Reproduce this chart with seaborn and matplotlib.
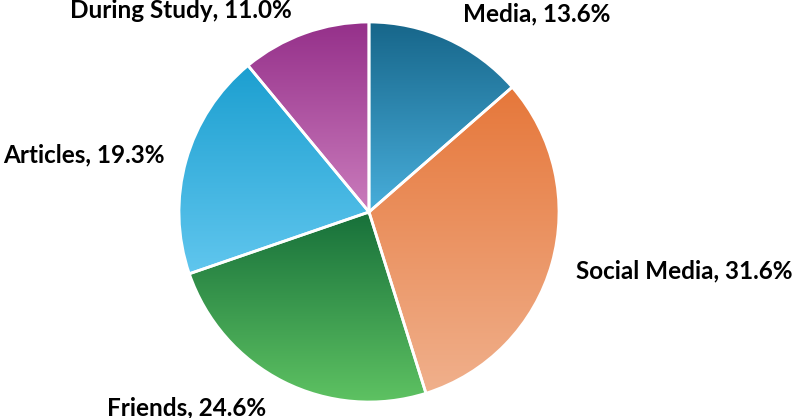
import numpy as np
import seaborn as sns
import matplotlib.pyplot as plt
from matplotlib.colors import LinearSegmentedColormap

# data (clockwise from 12 o'clock)
sources = ['Media', 'Social Media', 'Friends', 'Articles', 'During Study']
shares = [13.6, 31.6, 24.6, 19.3, 11.0]

# gradient colours per slice: (top, bottom)
top_colors = ['#17668a', '#e6773a', '#17703a', '#1c9fd0', '#95308a']
bottom_colors = ['#48aedb', '#f0b08c', '#5ec262', '#60c6ee', '#ca7cbc']

# label anchors in pie-radius units
label_pos = [(0.88, 1.04), (1.66, -0.31), (-0.96, -1.03), (-1.50, 0.30), (-0.99, 1.06)]

sns.set_theme(style='white')
plt.rcParams['font.family'] = ['Lato', 'DejaVu Sans']

fig = plt.figure(figsize=(7.94, 4.18), dpi=100)
ax = fig.add_axes([0, 0, 1, 1])

wedges, _ = ax.pie(shares, startangle=90, counterclock=False, radius=1,
                   wedgeprops=dict(facecolor='none', edgecolor='white', linewidth=2))

grad = np.linspace(0, 1, 256).reshape(-1, 1)
for w, top, bot in zip(wedges, top_colors, bottom_colors):
    bb = w.get_path().get_extents()
    cmap = LinearSegmentedColormap.from_list('g', [bot, top])
    im = ax.imshow(grad, cmap=cmap, extent=[bb.x0, bb.x1, bb.y0, bb.y1],
                   origin='lower', aspect='auto', zorder=0.5)
    im.set_clip_path(w)
    w.set_zorder(2)

for name, val, (x, y) in zip(sources, shares, label_pos):
    ax.text(x, y, f'{name}, {val:.1f}%', ha='center', va='center',
            fontsize=17.5, fontweight='bold', color='black')

# keep 190 px per unit radius, centre at (369, 212) px
ax.set_xlim(-369 / 190, (794 - 369) / 190)
ax.set_ylim(-(418 - 212) / 190, 212 / 190)
ax.set_aspect('auto')
ax.axis('off')

fig.savefig('out.png', dpi=100)
